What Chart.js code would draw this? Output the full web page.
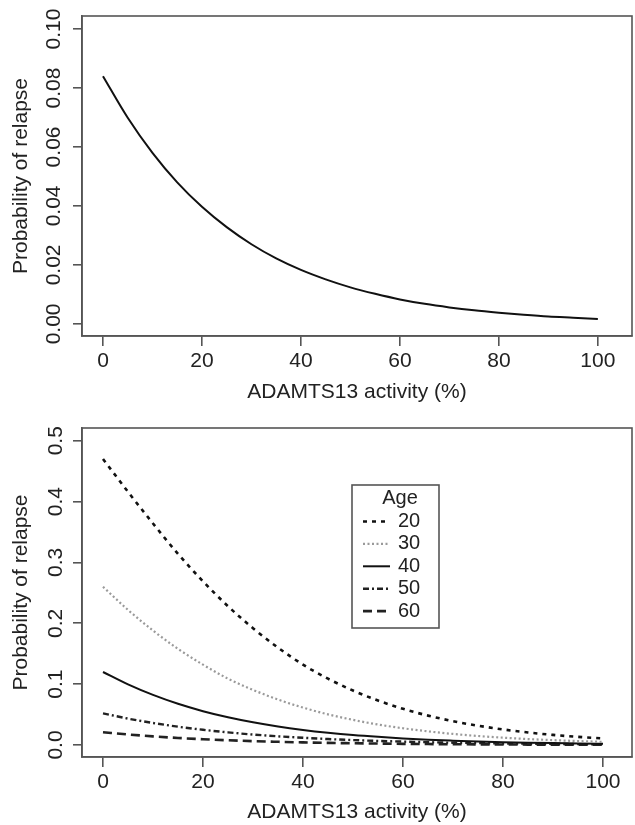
<!DOCTYPE html>
<html>
<head>
<meta charset="utf-8">
<script src="https://cdn.jsdelivr.net/npm/chart.js@4.4.1/dist/chart.umd.min.js"></script>
<style>
    body { margin: 0; background: #fff; width: 635px; height: 825px; position: relative; overflow: hidden; }
    canvas { position: absolute; left: 0; }
    #chart-1 { top: 0; }
    #chart-2 { top: 410px; }
</style>
</head>
<body>
<canvas id="chart-1" width="635" height="410"></canvas>
<canvas id="chart-2" width="635" height="415"></canvas>
<script>
// values, x = ADAMTS13 activity (%)
const activity = [0, 5, 10, 15, 20, 25, 30, 35, 40, 45, 50, 55, 60, 65, 70, 75, 80, 85, 90, 95, 100];

// top panel, single curve
const overall = [0.084, 0.0699, 0.058, 0.048, 0.0397, 0.0328, 0.027, 0.0222, 0.0183, 0.0151, 0.0124,
    0.0102, 0.0083, 0.0068, 0.0056, 0.0046, 0.0038, 0.0031, 0.0025, 0.0021, 0.0017];

// bottom panel, one curve per age
const ages = ['20', '30', '40', '50', '60'];
const age20 = [0.470, 0.416, 0.364, 0.314, 0.269, 0.228, 0.192, 0.160, 0.132, 0.109, 0.0895,
    0.0731, 0.0595, 0.0483, 0.0392, 0.0317, 0.0256, 0.0206, 0.0166, 0.0134, 0.0108];
const age30 = [0.260, 0.222, 0.188, 0.158, 0.132, 0.109, 0.0906, 0.0747, 0.0615, 0.0504, 0.0413,
    0.0337, 0.0275, 0.0224, 0.0182, 0.0148, 0.0121, 0.0098, 0.0080, 0.0065, 0.0052];
const age40 = [0.120, 0.0996, 0.0823, 0.0677, 0.0556, 0.0456, 0.0373, 0.0304, 0.0248, 0.0202, 0.0164,
    0.0134, 0.0109, 0.0088, 0.0072, 0.0058, 0.0047, 0.0038, 0.0031, 0.0025, 0.0020];
const age50 = [0.052, 0.0434, 0.0362, 0.0301, 0.025, 0.0208, 0.0172, 0.0143, 0.0119, 0.0098, 0.0081,
    0.0067, 0.0056, 0.0046, 0.0038, 0.0032, 0.0026, 0.0022, 0.0018, 0.0015, 0.0012];
const age60 = [0.021, 0.0173, 0.0142, 0.0116, 0.0095, 0.0078, 0.0064, 0.0053, 0.0043, 0.0035, 0.0029,
    0.0024, 0.0019, 0.0016, 0.0013, 0.0011, 0.0009, 0.0007, 0.0006, 0.0005, 0.0004];

// tick labels
const xTicks = [0, 20, 40, 60, 80, 100];
const yTicksTop = [0, 0.02, 0.04, 0.06, 0.08, 0.10];
const yTicksBottom = [0, 0.1, 0.2, 0.3, 0.4, 0.5];

Chart.defaults.font.family = "'Liberation Sans', Arial, sans-serif";
Chart.defaults.font.size = 21;
Chart.defaults.color = '#222';

const axisColor = '#555';

function pts(ys) {
    return activity.map((x, i) => ({x: x, y: ys[i]}));
}

// draws the full box around the plot region (R style bty="o")
const boxPlugin = {
    id: 'box',
    afterDraw(chart) {
        const a = chart.chartArea;
        const c = chart.ctx;
        c.save();
        c.strokeStyle = axisColor;
        c.lineWidth = 1.6;
        c.strokeRect(a.left, a.top, a.right - a.left, a.bottom - a.top);
        c.restore();
    }
};

function xScale(min, max, titlePad) {
    return {
        type: 'linear',
        min: min,
        max: max,
        afterBuildTicks: s => { s.ticks = xTicks.map(v => ({value: v})); },
        afterFit: s => { s.height = s.chart.height - s.chart.chartArea.bottom; },
        grid: {drawOnChartArea: false, color: axisColor, lineWidth: 1.6, tickLength: 10},
        border: {color: axisColor, width: 1.6},
        ticks: {padding: 3, maxRotation: 0, color: '#222'},
        title: {display: true, text: 'ADAMTS13 activity (%)', color: '#222', padding: {top: 0, bottom: titlePad}}
    };
}

function yScale(min, max, ticks, digits, pad) {
    return {
        type: 'linear',
        min: min,
        max: max,
        afterBuildTicks: s => { s.ticks = ticks.map(v => ({value: v})); },
        afterFit: s => { s.width = 82; },
        grid: {drawOnChartArea: false, color: axisColor, lineWidth: 1.6, tickLength: 9},
        border: {color: axisColor, width: 1.6},
        ticks: {
            minRotation: 90, maxRotation: 90, crossAlign: 'center', padding: pad, color: '#222',
            callback: v => v.toFixed(digits)
        },
        title: {display: true, text: 'Probability of relapse', color: '#222', padding: {top: 9, bottom: 0}}
    };
}

const ctx = document.getElementById('chart-1').getContext('2d');

var topChart = new Chart(ctx, {
    type: 'line',
    data: {
        datasets: [{
            label: 'overall',
            data: pts(overall),
            borderColor: '#111',
            borderWidth: 2,
            pointRadius: 0,
            cubicInterpolationMode: 'monotone'
        }]
    },
    options: {
        responsive: false,
        animation: false,
        layout: {padding: {top: 16, right: 3, left: 0, bottom: 0}},
        plugins: {legend: {display: false}, tooltip: {enabled: false}},
        scales: {
            x: Object.assign(xScale(-4.24, 106.9, 5), {afterFit: s => { s.height = 74; }}),
            y: yScale(-0.0041, 0.1044, yTicksTop, 2, -2)
        }
    },
    plugins: [boxPlugin]
});

// legend drawn inside the plot, like R's legend(title = "Age")
const ageLegend = {
    id: 'ageLegend',
    afterDraw(chart) {
        const c = chart.ctx;
        const a = chart.chartArea;
        const left = a.left + 270, top = a.top + 57, w = 87, h = 143;
        c.save();
        c.strokeStyle = axisColor;
        c.lineWidth = 1.6;
        c.strokeRect(left, top, w, h);
        c.fillStyle = '#222';
        c.font = "20px 'Liberation Sans', Arial, sans-serif";
        c.textBaseline = 'middle';
        c.textAlign = 'center';
        c.fillText('Age', left + 48, top + 13);
        c.textAlign = 'left';
        chart.data.datasets.forEach((ds, i) => {
            const y = top + 36.5 + i * 22.4;
            c.save();
            c.strokeStyle = ds.borderColor;
            c.lineWidth = ds.borderWidth;
            c.setLineDash(ds.borderDash || []);
            c.beginPath();
            c.moveTo(left + 11, y);
            c.lineTo(left + 38, y);
            c.stroke();
            c.restore();
            c.fillText(ds.label, left + 46, y);
        });
        c.restore();
    }
};

const ctx2 = document.getElementById('chart-2').getContext('2d');

const styles = [
    {color: '#111', width: 2.6, dash: [4, 5]},
    {color: '#9a9a9a', width: 2.2, dash: [2, 2.5]},
    {color: '#111', width: 2, dash: []},
    {color: '#222', width: 2.4, dash: [6, 3, 2, 3]},
    {color: '#222', width: 2.6, dash: [9, 5]}
];
const ageSeries = [age20, age30, age40, age50, age60];

var bottomChart = new Chart(ctx2, {
    type: 'line',
    data: {
        datasets: ages.map((a, i) => ({
            label: a,
            data: pts(ageSeries[i]),
            borderColor: styles[i].color,
            borderWidth: styles[i].width,
            borderDash: styles[i].dash,
            pointRadius: 0,
            cubicInterpolationMode: 'monotone'
        }))
    },
    options: {
        responsive: false,
        animation: false,
        layout: {padding: {top: 18, right: 3, left: 0, bottom: 0}},
        plugins: {legend: {display: false}, tooltip: {enabled: false}},
        scales: {
            x: Object.assign(xScale(-4.2, 105.8, 0), {afterFit: s => { s.height = 68; }}),
            y: yScale(-0.0197, 0.5209, yTicksBottom, 1, 2)
        }
    },
    plugins: [boxPlugin, ageLegend]
});
</script>
</body>
</html>
